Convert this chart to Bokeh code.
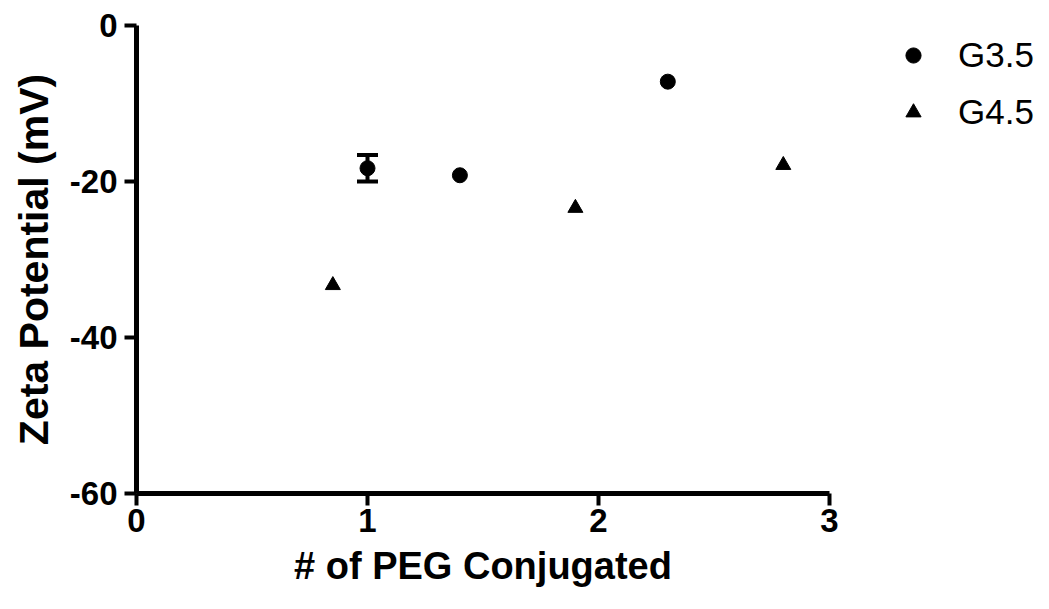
from bokeh.plotting import figure
from bokeh.layouts import row
from bokeh.models import (ColumnDataSource, Whisker, TeeHead, Legend, LegendItem,
                          Range1d, FixedTicker, CustomJSTickFormatter)
from bokeh.embed import file_html
from bokeh.resources import INLINE

# ---- data ----
g35_x = [1.0, 1.4, 2.3]
g35_y = [-18.3, -19.2, -7.2]
g35_err = [1.7, 0.0, 0.0]

g45_x = [0.85, 1.9, 2.8]
g45_y = [-33.3, -23.4, -17.9]

x_ticks = [0, 1, 2, 3]
y_ticks = [0, -20, -40, -60]

series_labels = ["G3.5", "G4.5"]
x_title = "# of PEG Conjugated"
y_title = "Zeta Potential (mV)"

FONT = "Liberation Sans"
H = 601
TOP, BOTTOM = 25, 108
p = figure(width=840, height=H, output_backend="svg", toolbar_location=None,
           x_range=Range1d(0, 3), y_range=Range1d(-60, 0),
           min_border_left=136, min_border_right=11,
           min_border_top=TOP, min_border_bottom=BOTTOM)
p.outline_line_color = None
p.xgrid.visible = False
p.ygrid.visible = False
p.background_fill_color = "white"
p.border_fill_color = "white"

src35 = ColumnDataSource(dict(x=g35_x, y=g35_y))
src45 = ColumnDataSource(dict(x=g45_x, y=g45_y))

# error bars (only where error > 0)
ex = [x for x, e in zip(g35_x, g35_err) if e > 0]
ey = [y for y, e in zip(g35_y, g35_err) if e > 0]
ee = [e for e in g35_err if e > 0]
err_src = ColumnDataSource(dict(x=ex, upper=[y + e for y, e in zip(ey, ee)],
                                lower=[y - e for y, e in zip(ey, ee)]))
w = Whisker(source=err_src, base="x", upper="upper", lower="lower",
            line_width=4, line_color="black",
            upper_head=TeeHead(size=21, line_width=4, line_color="black"),
            lower_head=TeeHead(size=21, line_width=4, line_color="black"))
p.add_layout(w)

p.scatter("x", "y", source=src35, marker="circle", size=15,
          fill_color="black", line_color="black")
p.scatter("x", "y", source=src45, marker="triangle", size=15,
          fill_color="black", line_color="black")

fmt = CustomJSTickFormatter(code="return String(tick);")
for ax in (p.xaxis[0], p.yaxis[0]):
    ax.formatter = fmt
    ax.axis_line_width = 5
    ax.axis_line_color = "black"
    ax.major_tick_line_width = 4
    ax.major_tick_line_color = "black"
    ax.major_tick_out = 12
    ax.major_tick_in = 0
    ax.minor_tick_line_color = None
    ax.major_label_text_font = FONT
    ax.major_label_text_font_style = "bold"
    ax.major_label_text_font_size = "33px"
    ax.major_label_text_color = "black"
    ax.axis_label_text_font = FONT
    ax.axis_label_text_font_style = "bold"
    ax.axis_label_text_color = "black"

p.xaxis.major_label_standoff = 3
p.yaxis.major_label_standoff = 7
p.xaxis.ticker = FixedTicker(ticks=x_ticks)
p.yaxis.ticker = FixedTicker(ticks=y_ticks)
p.xaxis.axis_label = x_title
p.yaxis.axis_label = y_title
p.xaxis.axis_label_text_font_size = "38px"
p.yaxis.axis_label_text_font_size = "41px"
p.xaxis.axis_label_standoff = 10
p.yaxis.axis_label_standoff = 10

# ---- legend panel (separate small figure, outside the plotting frame) ----
leg = figure(width=201, height=H, output_backend="svg", toolbar_location=None,
             x_axis_location=None, y_axis_location=None,
             x_range=Range1d(0, 1), y_range=Range1d(0, 1),
             min_border_left=44, min_border_top=TOP,
             min_border_right=0, min_border_bottom=BOTTOM)
leg.outline_line_color = None
leg.xgrid.visible = False
leg.ygrid.visible = False
nan_src = ColumnDataSource(dict(x=[float("nan")], y=[float("nan")]))
l1 = leg.scatter("x", "y", source=nan_src, marker="circle", size=15,
                 fill_color="black", line_color="black")
l2 = leg.scatter("x", "y", source=nan_src, marker="triangle", size=15,
                 fill_color="black", line_color="black")
legend = Legend(items=[LegendItem(label=series_labels[0], renderers=[l1], index=0),
                       LegendItem(label=series_labels[1], renderers=[l2], index=0)],
                location="top_left", orientation="vertical",
                border_line_color=None, background_fill_alpha=0,
                label_text_font=FONT, label_text_font_size="35px",
                label_text_color="black",
                glyph_width=38, glyph_height=40, label_height=40,
                spacing=17, padding=0, margin=10, label_standoff=26)
leg.add_layout(legend, "center")

layout = row(p, leg)
open("out.html", "w").write(file_html(layout, INLINE))
